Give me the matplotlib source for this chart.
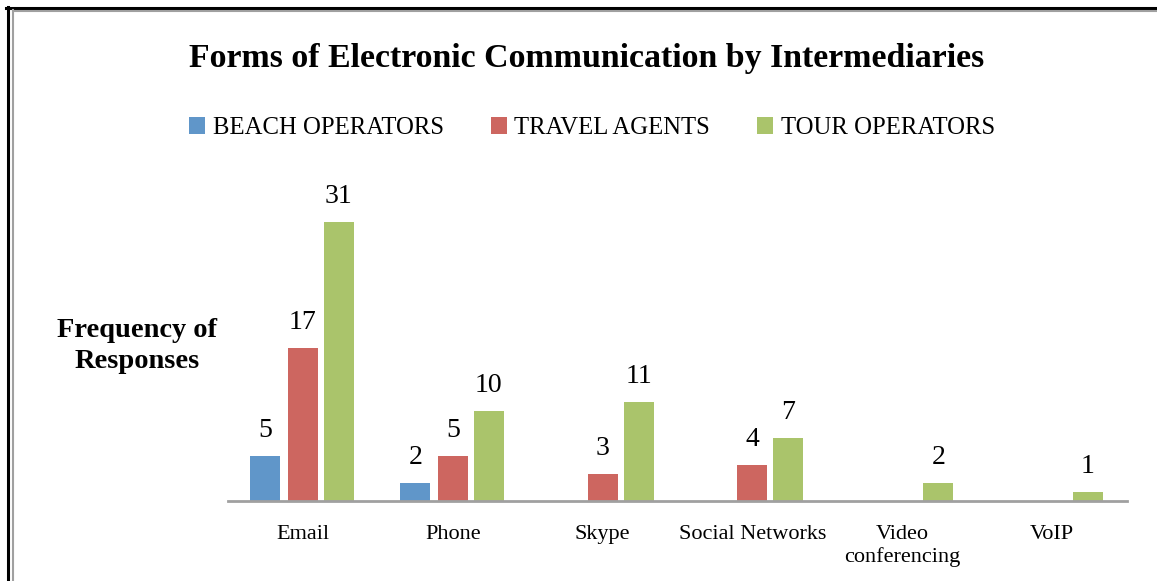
import matplotlib.pyplot as plt
import numpy as np
from matplotlib.lines import Line2D

# communication channels and counts per intermediary type
channels = ['Email', 'Phone', 'Skype', 'Social Networks', 'Video\nconferencing', 'VoIP']
series = ['BEACH OPERATORS', 'TRAVEL AGENTS', 'TOUR OPERATORS']
beach = [5, 2, 0, 0, 0, 0]
travel = [17, 5, 3, 4, 0, 0]
tour = [31, 10, 11, 7, 2, 1]
colors = ['#6096C9', '#CD6660', '#AAC46B']

plt.rcParams['font.family'] = ['Liberation Serif', 'DejaVu Serif']

fig = plt.figure(figsize=(11.57, 5.81), dpi=100)
ax = fig.add_axes([228 / 1157, 80 / 581, 899 / 1157, 315 / 581])

x = np.arange(len(channels))
offsets = [-0.25, 0.0, 0.24]
handles = []
for vals, off, col, name in zip([beach, travel, tour], offsets, colors, series):
    vals = np.array(vals)
    mask = vals > 0
    b = ax.bar(x[mask] + off, vals[mask], width=0.2, color=col, label=name)
    handles.append(b)
    for xi, v in zip(x[mask] + off, vals[mask]):
        ax.text(xi, v + 1.4, str(v), ha='center', va='bottom', fontsize=20)

ax.set_xlim(-0.5, 5.5)
ax.set_ylim(0, 35)
for s in ['top', 'right', 'left']:
    ax.spines[s].set_visible(False)
ax.spines['bottom'].set_color('#A0A0A0')
ax.spines['bottom'].set_linewidth(2)
ax.set_yticks([])
ax.set_xticks(x)
ax.set_xticklabels(channels, fontsize=16, linespacing=1.25)
ax.tick_params(axis='x', length=0, pad=17)

fig.text(137 / 1157, 1 - 346 / 581, 'Frequency of\nResponses', ha='center', va='center',
         fontsize=20.5, fontweight='bold', linespacing=1.35)
fig.text(587 / 1157, 1 - 58 / 581, 'Forms of Electronic Communication by Intermediaries',
         ha='center', va='center', fontsize=24.4, fontweight='bold')

fig.legend(handles=handles, labels=series, loc='center', ncol=3,
           bbox_to_anchor=(592 / 1157, 1 - 128 / 581), frameon=False, fontsize=17.8,
           handlelength=0.65, handleheight=0.65, handletextpad=0.3, columnspacing=1.9)

# frame lines along the top and left edge
fig.add_artist(Line2D([7.5 / 1157, 7.5 / 1157], [0, 1 - 7 / 581], color='black', lw=2.2,
                      transform=fig.transFigure))
fig.add_artist(Line2D([6 / 1157, 1], [1 - 8 / 581, 1 - 8 / 581], color='black', lw=2.2,
                      transform=fig.transFigure))
fig.add_artist(Line2D([13 / 1157, 13 / 1157], [0, 1 - 10 / 581], color='#A0A0A0', lw=1.5,
                      transform=fig.transFigure))
fig.add_artist(Line2D([13 / 1157, 1], [1 - 10.5 / 581, 1 - 10.5 / 581], color='#A0A0A0', lw=1.5,
                      transform=fig.transFigure))

fig.savefig('out.png', dpi=100)
